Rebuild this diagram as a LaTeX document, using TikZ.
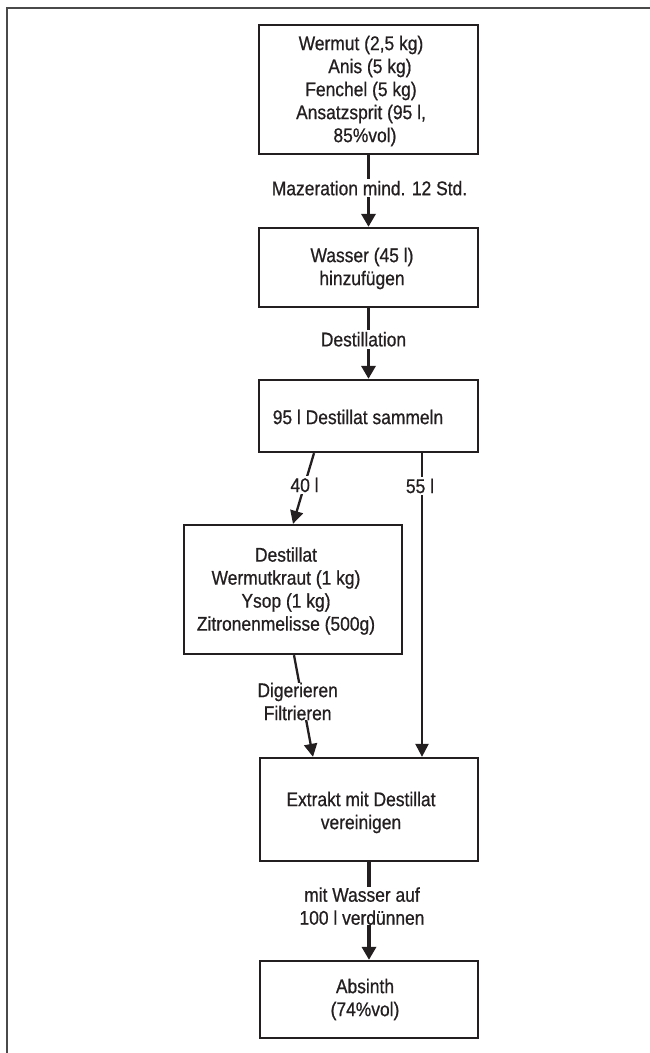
\documentclass[tikz,border=0pt]{standalone}
\usepackage{fontspec}
\setmainfont{Liberation Sans}[FakeStretch=0.88,FakeBold=0.7]
\usetikzlibrary{arrows.meta,calc}
\definecolor{ink}{HTML}{231F20}
\definecolor{frame}{HTML}{4A4A4A}
\begin{document}
\begin{tikzpicture}[x=1pt,y=-1pt,
  every node/.style={font=\fontsize{19.8}{23}\selectfont, text=ink},
  box/.style={draw=ink, line width=2.3pt, inner sep=0pt},
  boxtext/.style={align=center, inner sep=0pt},
  mainarrow/.style={draw=ink, line width=3.6pt, -{Triangle[width=14pt,length=13pt]}},
  thinarrow/.style={draw=ink, line width=2.3pt, -{Triangle[width=13pt,length=13pt]}},
  lbl/.style={fill=white, align=center, inner xsep=1pt, inner ysep=2pt}]
\useasboundingbox (0,0) rectangle (650,1053);
\clip (0,0) rectangle (650,1053);
\draw[frame, line width=2pt] (7,7.5) rectangle (720,1120);

\node[box, minimum width=219pt, minimum height=129pt,
  label={[boxtext, xshift=-7.5pt, yshift=-1.5pt]center:{Wermut (2,5 kg)\\ \hspace*{0.9em}Anis (5 kg)\\ Fenchel (5 kg)\\ Ansatzsprit (95 l,\\ \hspace*{0.4em}85\%vol)}}]
  (b1) at (368.5,89.5) {};
\node[box, minimum width=219pt, minimum height=79pt,
  label={[boxtext, xshift=-6.5pt, yshift=-1pt]center:{Wasser (45 l)\\ hinzufügen}}]
  (b2) at (368.5,267.5) {};
\node[box, minimum width=219pt, minimum height=72pt,
  label={[boxtext, xshift=-10.5pt, yshift=-1pt]center:{95 l Destillat sammeln}}]
  (b3) at (368.5,416) {};
\node[box, minimum width=218pt, minimum height=129pt,
  label={[boxtext, xshift=-7pt, yshift=-1.5pt]center:{Destillat\\ Wermutkraut (1 kg)\\ Ysop (1 kg)\\ Zitronenmelisse (500g)}}]
  (b4) at (293,589.5) {};
\node[box, minimum width=218pt, minimum height=103pt,
  label={[boxtext, xshift=-8pt, yshift=-3pt]center:{Extrakt mit Destillat\\ vereinigen}}]
  (b5) at (369,809.5) {};
\node[box, minimum width=218pt, minimum height=77pt,
  label={[boxtext, xshift=-4pt, yshift=0pt]center:{Absinth\\ (74\%vol)}}]
  (b6) at (369,999.5) {};

\draw[mainarrow] (b1.south) -- node[lbl, pos=0.46, xshift=1pt] (l1) {Mazeration mind. 12 Std.} (b2.north);
\draw[mainarrow] (b2.south) -- node[lbl, pos=0.44, xshift=-5pt] (l2) {Destillation} (b3.north);
\draw[thinarrow] ([xshift=-54.5pt]b3.south) -- node[lbl, pos=0.45] (l3) {40 l} (b4.north);
\draw[thinarrow] ([xshift=53.5pt]b3.south) -- node[lbl, pos=0.108, xshift=-2pt] (l4) {55 l} ([xshift=53pt]b5.north);
\draw[thinarrow] ([xshift=1pt]b4.south) -- node[lbl, pos=0.456, xshift=-5pt, inner ysep=0pt] (l5) {Digerieren\\ Filtrieren} ([xshift=-56pt]b5.north);
\draw[mainarrow] (b5.south) -- node[lbl, pos=0.45, xshift=-7pt, inner ysep=0pt] (l6) {mit Wasser auf\\ 100 l verdünnen} (b6.north);
\end{tikzpicture}
\end{document}
